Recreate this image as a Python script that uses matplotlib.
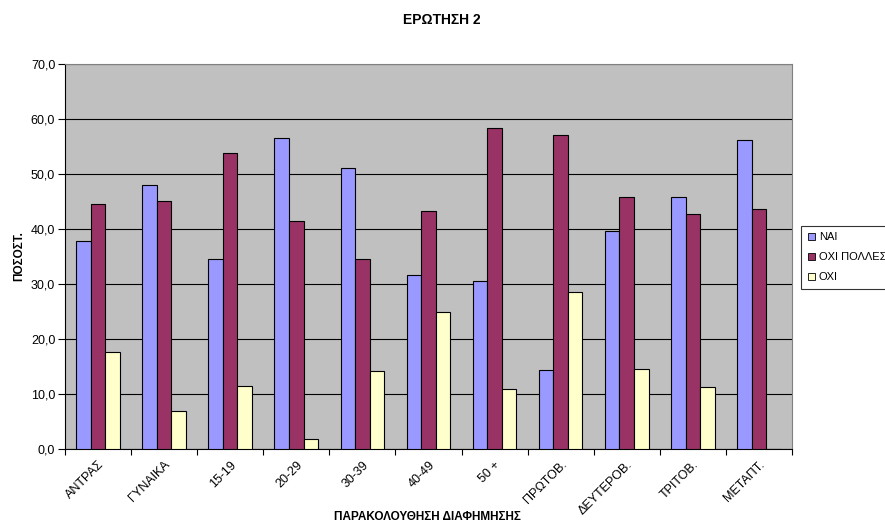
import matplotlib.pyplot as plt
import numpy as np
from matplotlib.patches import Patch

plt.rcParams['font.family'] = ['Liberation Sans', 'DejaVu Sans']

categories = ['ΑΝΤΡΑΣ', 'ΓΥΝΑΙΚΑ', '15-19', '20-29', '30-39', '40-49', '50 +',
              'ΠΡΩΤΟΒ.', 'ΔΕΥΤΕΡΟΒ.', 'ΤΡΙΤΟΒ.', 'ΜΕΤΑΠΤ.']
nai = [37.8, 48.0, 34.6, 56.5, 51.0, 31.7, 30.6, 14.3, 39.6, 45.9, 56.2]
oxi_polles = [44.5, 45.0, 53.8, 41.4, 34.6, 43.2, 58.3, 57.0, 45.9, 42.7, 43.6]
oxi = [17.6, 7.0, 11.5, 1.9, 14.2, 25.0, 11.0, 28.5, 14.6, 11.2, 0.0]
series_names = ['ΝΑΙ', 'ΟΧΙ ΠΟΛΛΕΣ', 'ΟΧΙ']
colors = ['#9999FF', '#993366', '#FFFFCC']

fig = plt.figure(figsize=(8.85, 5.31), dpi=100)
ax = fig.add_axes([0.0734, 0.1544, 0.8215, 0.7251])
ax.set_facecolor('#C0C0C0')

x = np.arange(len(categories))
w = 0.22
for i, (vals, c) in enumerate(zip([nai, oxi_polles, oxi], colors)):
    ax.bar(x + (i - 1) * w, vals, width=w, color=c, edgecolor='black', linewidth=0.8, zorder=3)

ax.set_xlim(-0.5, len(categories) - 0.5)
ax.set_ylim(0, 70)
ax.set_yticks(np.arange(0, 71, 10))
ax.set_yticklabels([f'{v:.1f}'.replace('.', ',') for v in np.arange(0, 71, 10)], fontsize=9)
ax.yaxis.grid(True, color='black', linewidth=0.8, zorder=1)
ax.set_axisbelow(True)

# ticks sit between the groups, labels under the group centres
ax.set_xticks(np.arange(len(categories) + 1) - 0.5)
ax.set_xticklabels([])
ax.set_xticks(x, minor=True)
ax.set_xticklabels(categories, minor=True, rotation=45, ha='right',
                   rotation_mode='anchor', fontsize=9)
ax.tick_params(axis='x', which='minor', length=0, pad=7)
ax.tick_params(axis='x', which='major', length=4, direction='out')
ax.tick_params(axis='y', length=5, direction='out', pad=2)

for side in ['top', 'right']:
    ax.spines[side].set_color('#808080')
for side in ['left', 'bottom']:
    ax.spines[side].set_color('black')

ax.set_ylabel('ΠΟΣΟΣΤ.', fontsize=8.5, fontweight='bold', labelpad=4)
fig.text(0.4825, 0.015, 'ΠΑΡΑΚΟΛΟΥΘΗΣΗ ΔΙΑΦΗΜΗΣΗΣ', ha='center', va='bottom',
         fontsize=8.5, fontweight='bold')
fig.text(0.4995, 0.962, 'ΕΡΩΤΗΣΗ 2', ha='center', va='center', fontsize=10, fontweight='bold')

handles = [Patch(facecolor=c, edgecolor='black', linewidth=0.6) for c in colors]
leg = fig.legend(handles, series_names, loc='upper left', bbox_to_anchor=(0.905, 0.575),
                 fontsize=8, frameon=True, fancybox=False, edgecolor='black',
                 handlelength=0.7, handleheight=0.7, handletextpad=0.3,
                 labelspacing=0.9, borderpad=0.6, borderaxespad=0)
leg.get_frame().set_linewidth(0.8)

fig.savefig('out.png', dpi=100)
